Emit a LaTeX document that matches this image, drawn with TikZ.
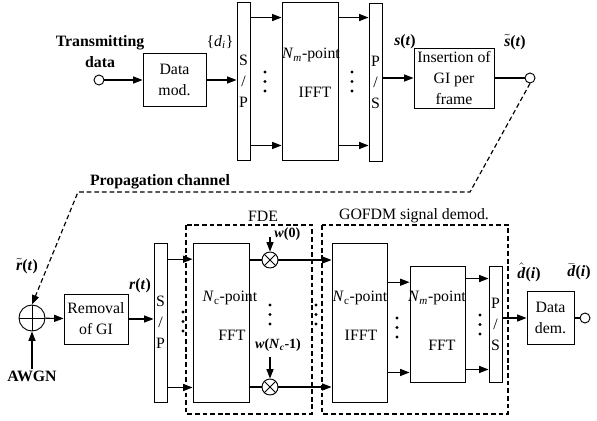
\documentclass[tikz,border=0pt]{standalone}
\usepackage{fontspec}
\setmainfont{Liberation Serif}
\usetikzlibrary{arrows.meta, positioning, calc}
\newcommand{\acc}[2]{$#1{\hbox{#2}}$}

\begin{document}
\begin{tikzpicture}[
  x=0.03cm, y=-0.03cm,
  font=\fontsize{13.5}{18}\selectfont,
  block/.style={draw=black, fill=white, line width=0.8pt, align=center, inner sep=0pt},
  bar/.style={block, minimum width=0.39cm},
  joint/.style={draw=black, fill=white, line width=0.8pt, circle, inner sep=0pt},
  conn/.style={draw=black, line width=0.9pt, -{Triangle[length=8pt,width=6pt]}},
  wire/.style={draw=black, line width=0.9pt},
  group/.style={draw=black, line width=1pt, dash pattern=on 4pt off 2.5pt},
  lab/.style={inner sep=1pt},
  boldlab/.style={lab, font=\fontsize{13.5}{18}\selectfont\bfseries}
]
\useasboundingbox (0,0) rectangle (597,420);

% transmitter
\node[joint, minimum size=0.3cm] (in) at (99,80) {};
\node[boldlab, align=center] (txt) at (100,52) {Transmitting\\data};
\node[block, minimum width=1.89cm, minimum height=1.59cm] (DM) at (174.5,80) {Data\\mod.};
\node[bar, minimum height=4.74cm] (SP1) at (243.5,81) {S\\/\\P};
\node[block, minimum width=1.68cm, minimum height=4.74cm] (IFFT1) at (310,81) {};
\node[bar, minimum height=4.74cm] (PS1) at (375.5,82) {P\\/\\S};
\node[block, minimum width=2.4cm, minimum height=1.8cm] (GI) at (454,78) {Insertion of\\GI per\\frame};
\node[joint, minimum size=0.3cm] (out) at (530,78) {};

\node[lab] (nm1) at (311,55) {\textit{N}\textsubscript{\textit{m}}-point};
\node[lab] (if1) at (315,92) {IFFT};
\node[lab] (di) at (220,42) {\{\textit{d}\textsubscript{\textit{i}}\}};
\node[boldlab] (st) at (405,42) {\textit{s}(\textit{t})};
\node[boldlab] (sst) at (515,42) {\acc{\tilde}{\textit{s}}(\textit{t})};

\draw[conn] (in) -- (DM);
\draw[conn] (DM.east) -- (DM.east -| SP1.west);
\coordinate (a1) at ([yshift=-0.48cm]SP1.north east);
\coordinate (a2) at ([yshift=0.45cm]SP1.south east);
\draw[conn] (a1) -- (a1 -| IFFT1.west);
\draw[conn] (a2) -- (a2 -| IFFT1.west);
\coordinate (b1) at ([yshift=-0.48cm]IFFT1.north east);
\coordinate (b2) at ([yshift=0.45cm]IFFT1.south east);
\draw[conn] (b1) -- (b1 -| PS1.west);
\draw[conn] (b2) -- (b2 -| PS1.west);
\draw[conn] (PS1.east |- GI.west) -- (GI.west);
\draw[wire] (GI) -- (out);

% propagation channel
\node[boldlab] (prop) at (160,182) {Propagation channel};
\coordinate (k1) at (470,192);
\coordinate (k2) at (78,192);

% receiver
\node[joint, minimum size=0.78cm] (add) at (32,318) {};
\draw[line width=0.8pt] (add.north) -- (add.south) (add.west) -- (add.east);
\node[boldlab] (awgn) at (32,376) {AWGN};
\node[boldlab] (rrt) at (27,266) {\acc{\tilde}{\textit{r}}(\textit{t})};
\draw[group, -{Triangle[length=8pt,width=6pt]}] (out.south) -- (k1) -- (k2) -- (add.north);
\draw[conn] (awgn) -- (add.south);

\node[block, minimum width=1.92cm, minimum height=1.5cm] (REM) at (96,319) {Removal\\of GI};
\node[boldlab] (rt) at (140,286) {\textit{r}(\textit{t})};
\node[bar, minimum height=4.77cm] (SP2) at (160.5,322.5) {S\\/\\P};

\draw[group] (186,225) rectangle (312,414);
\node[lab] (fde) at (263,216) {FDE};
\draw[group] (322,225) rectangle (508,414);
\node[lab] (gofdm) at (414,216) {GOFDM signal demod.};

\node[block, minimum width=1.68cm, minimum height=4.77cm] (FFT1) at (221,322.5) {};
\node[lab] (nc1) at (230,298) {\textit{N}\textsubscript{c}-point};
\node[lab] (ff1) at (232,335) {FFT};

\node[joint, minimum size=0.48cm] (m1) at (270,260) {};
\node[joint, minimum size=0.48cm] (m2) at (270,387) {};
\draw[line width=0.8pt] (m1.north east) -- (m1.south west) (m1.north west) -- (m1.south east);
\draw[line width=0.8pt] (m2.north east) -- (m2.south west) (m2.north west) -- (m2.south east);
\node[lab, anchor=west, font=\fontsize{12}{14}\selectfont\bfseries] (w0) at (273,234) {\textit{w}(0)};
\node[lab, font=\fontsize{12}{14}\selectfont\bfseries] (wn) at (278,345) {\textit{w}(\textit{N}\textsubscript{\textit{c}}-1)};
\coordinate (w1) at (270,237);
\coordinate (w2) at (270,357);
\draw[conn] (w1) -- (m1.north);
\draw[conn] (w2) -- (m2.north);

\node[block, minimum width=1.65cm, minimum height=4.77cm] (IFFT2) at (359.5,322.5) {};
\node[lab] (nc2) at (360,298) {\textit{N}\textsubscript{c}-point};
\node[lab] (if2) at (361,335) {IFFT};
\node[block, minimum width=1.65cm, minimum height=3.48cm] (FFT2) at (437.5,324) {};
\node[lab] (nm2) at (437,298) {\textit{N}\textsubscript{\textit{m}}-point};
\node[lab] (ff2) at (442,345) {FFT};
\node[bar, minimum height=3.48cm] (PS2) at (495.5,324) {P\\/\\S};
\node[block, minimum width=1.41cm, minimum height=1.59cm] (DEM) at (550.5,318) {Data\\dem.};
\node[joint, minimum size=0.3cm] (out2) at (585,318) {};
\node[boldlab] (dh) at (529,272) {\acc{\hat}{\textit{d}}(\textit{i})};
\node[boldlab] (db) at (579,272) {\acc{\bar}{\textit{d}}(\textit{i})};

\draw[conn] (add) -- (REM);
\draw[conn] (REM.east) -- (REM.east -| SP2.west);
\coordinate (c1) at ([yshift=-0.5cm]SP2.north east);
\coordinate (c2) at ([yshift=0.45cm]SP2.south east);
\draw[conn] (c1) -- (c1 -| FFT1.west);
\draw[conn] (c2) -- (c2 -| FFT1.west);
\draw[wire] (FFT1.east |- m1) -- (m1);
\draw[wire] (FFT1.east |- m2) -- (m2);
\draw[conn] (m1) -- (m1 -| IFFT2.west);
\draw[conn] (m2) -- (m2 -| IFFT2.west);
\coordinate (d1) at ([yshift=-0.5cm]FFT2.north -| IFFT2.east);
\coordinate (d2) at ([yshift=0.3cm]FFT2.south -| IFFT2.east);
\draw[conn] (d1) -- (d1 -| FFT2.west);
\draw[conn] (d2) -- (d2 -| FFT2.west);
\coordinate (e1) at ([yshift=-0.39cm]FFT2.north east);
\coordinate (e2) at ([yshift=0.39cm]FFT2.south east);
\draw[conn] (e1) -- (e1 -| PS2.west);
\draw[conn] (e2) -- (e2 -| PS2.west);
\draw[conn] (PS2.east |- DEM.west) -- (DEM.west);
\draw[wire] (DEM) -- (out2);

% dots
\foreach \x/\y in {265/72, 352/72, 183/312, 270/305, 316/305, 397/318, 480/315}
  \foreach \k in {0,1,2}
    \fill (\x,{\y+9.5*\k}) circle (1.3pt);

\end{tikzpicture}
\end{document}
